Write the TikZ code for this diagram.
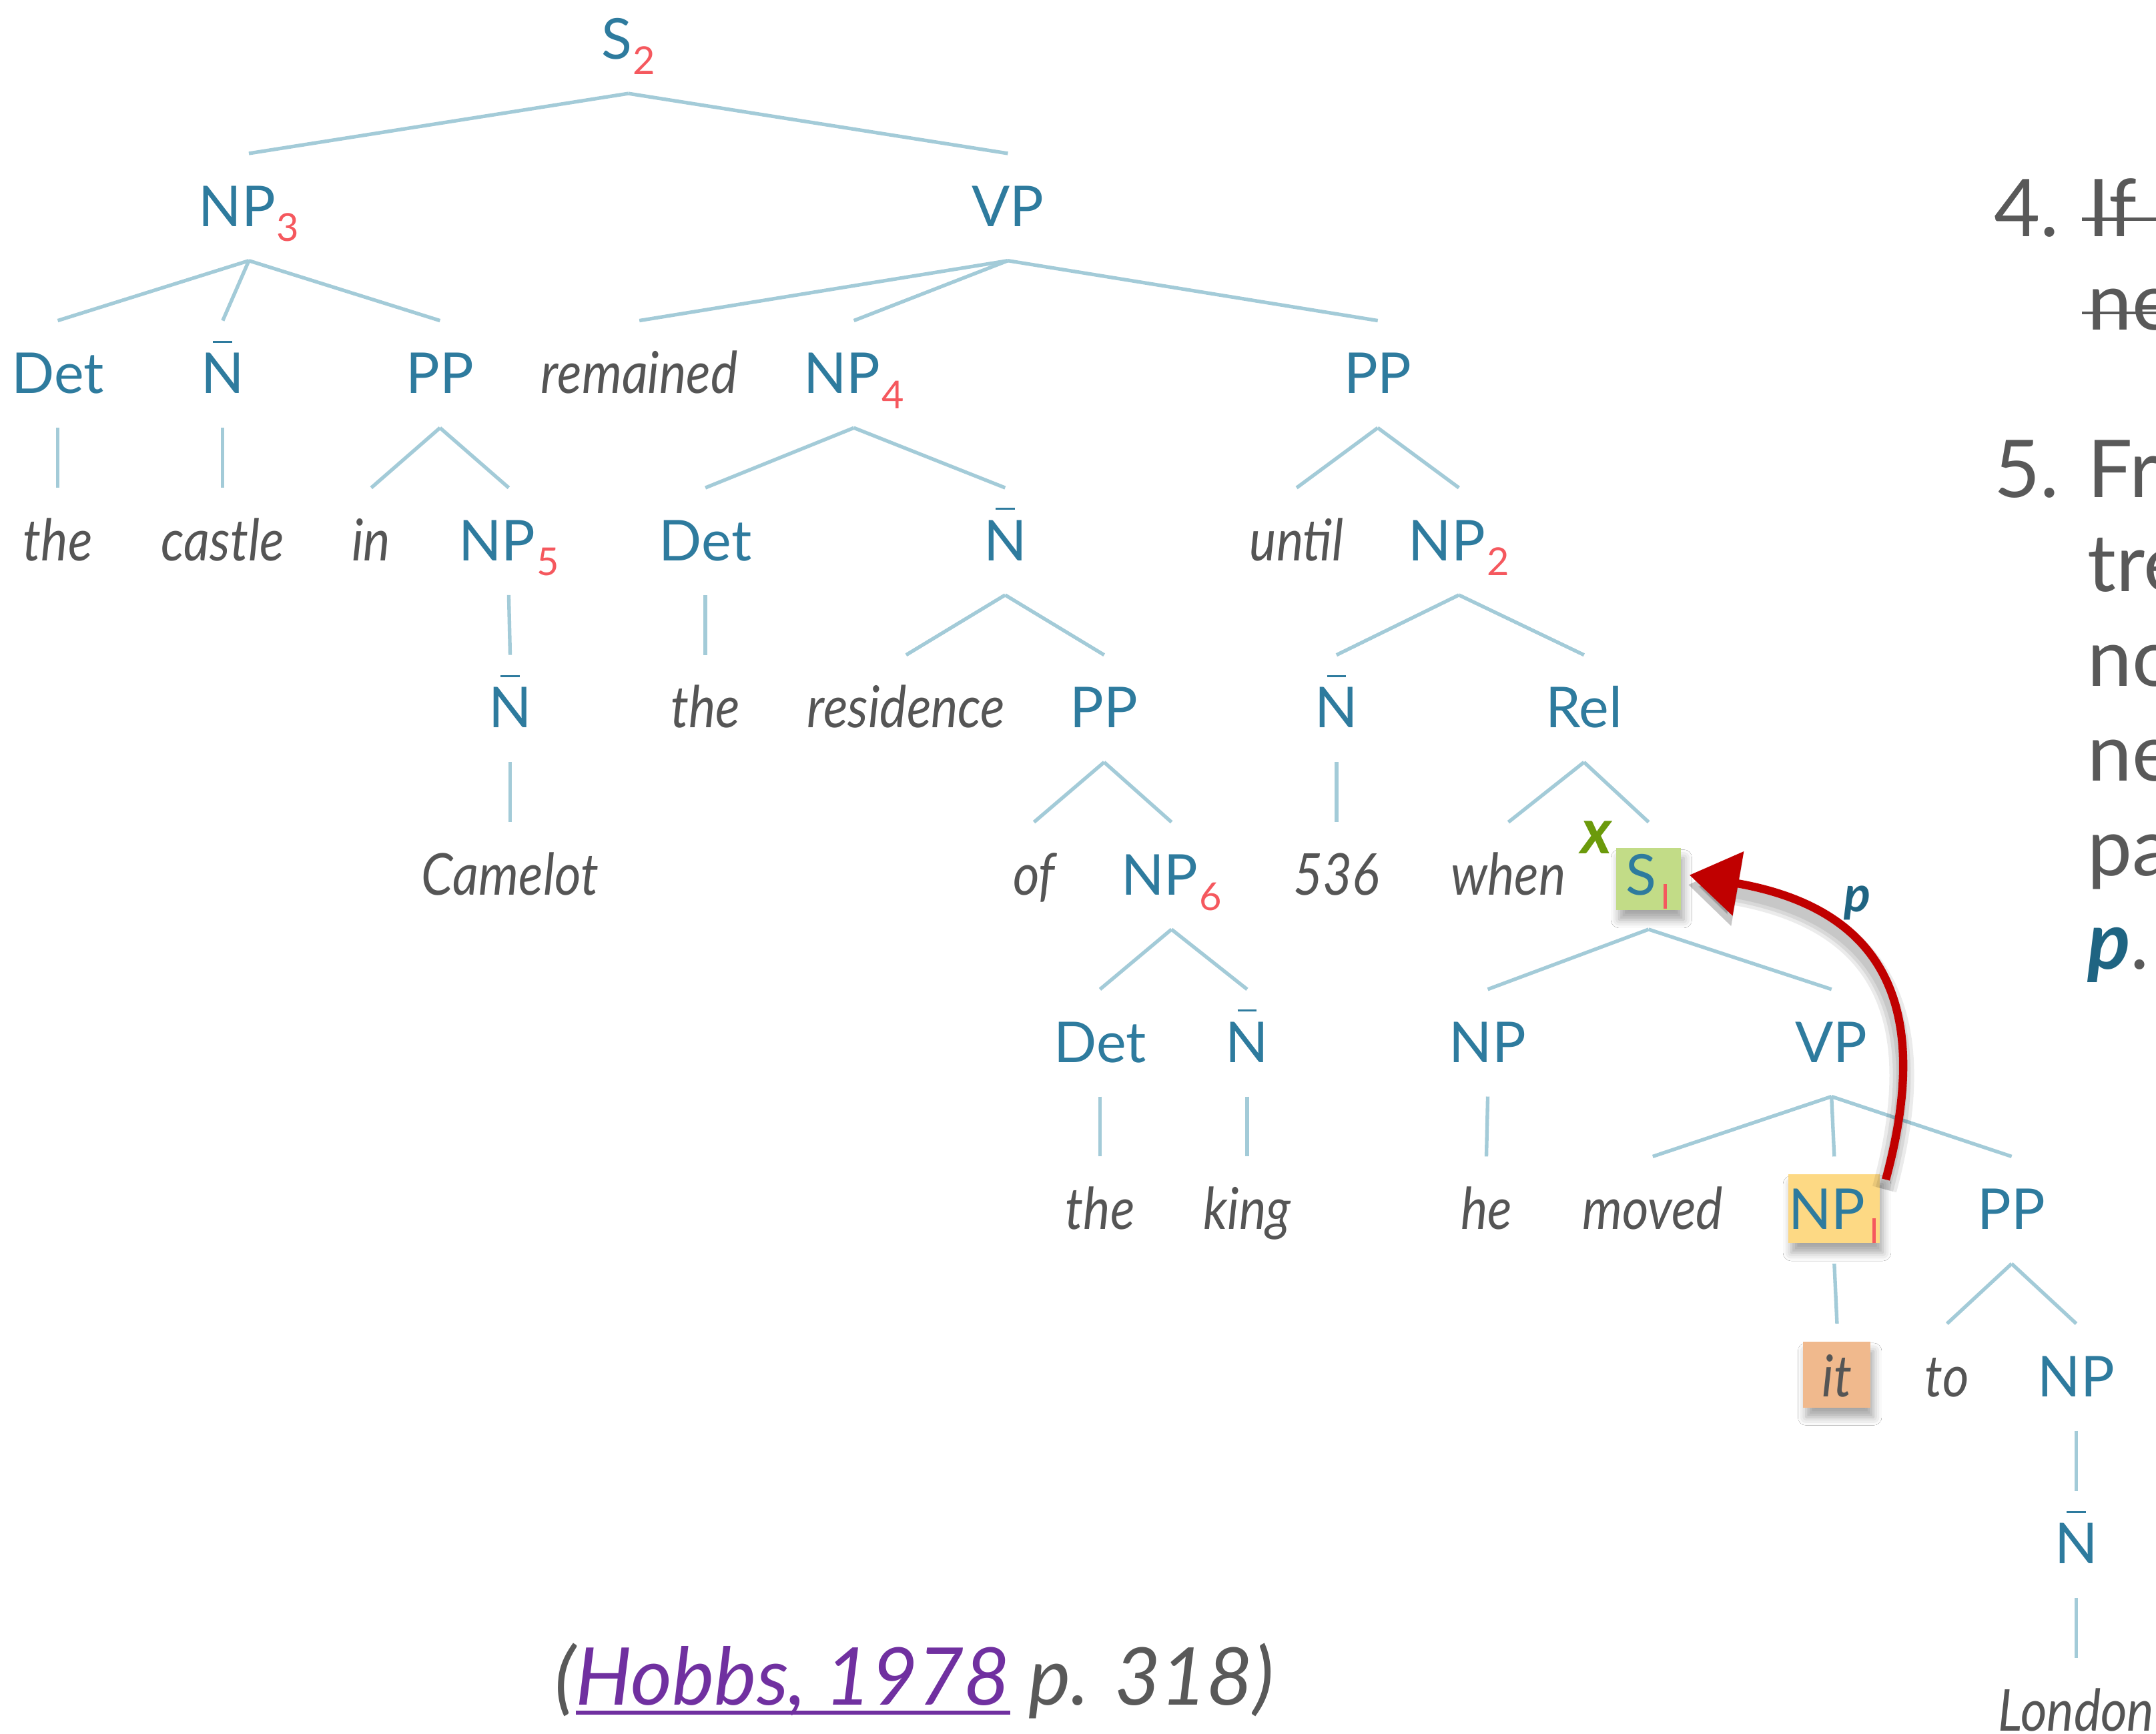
\documentclass[tikz,border=0pt]{standalone}
\usepackage{fontspec}
\setmainfont{Lato}
\newfontfamily\itf{Lato}[FakeStretch=0.88]
\usetikzlibrary{arrows.meta,shadows.blur}
\definecolor{labblue}{HTML}{2E7B9E}
\definecolor{lineblue}{HTML}{A3CBD8}
\definecolor{wgray}{HTML}{555555}
\definecolor{tgray}{HTML}{595959}
\definecolor{subred}{HTML}{F5585E}
\definecolor{boxgreen}{HTML}{C2DC87}
\definecolor{boxyellow}{HTML}{FDD984}
\definecolor{boxorange}{HTML}{F0B98D}
\definecolor{xgreen}{HTML}{6B9A0B}
\definecolor{pblue}{HTML}{1F6482}
\definecolor{arrred}{HTML}{C00000}
\definecolor{purp}{HTML}{7030A0}
\newcommand\subn[1]{{\kern1pt\color{subred}\fontsize{28}{28}\selectfont\raisebox{-11pt}{#1}}}
\newcommand\subone{{\kern5pt\color{subred}\raisebox{-10pt}{\rule{2.6pt}{18pt}}\kern3pt}}
\newcommand\NBar{{\setbox0\hbox{N}\rlap{\hbox to\wd0{\hss\rule[0.9em]{0.34em}{1.5pt}\hss}}N}}
\newcommand\treeedge[2]{\draw[br] ([yshift=-25pt]#1.base) -- ([yshift=53pt]#2.base);}
\tikzset{
  lab/.style={text=labblue, font=\fontsize{41}{41}\selectfont, inner sep=0pt, anchor=base},
  wrd/.style={text=wgray, font=\itf\itshape\fontsize{42}{42}\selectfont, inner sep=0pt, anchor=base},
  br/.style={draw=lineblue, line width=2.6pt},
  hbox/.style={inner xsep=0pt, inner ysep=3pt, blur shadow={shadow xshift=2pt, shadow yshift=-7pt, shadow blur radius=6pt, shadow opacity=35}},
  rt/.style={text=tgray, font=\fontsize{58}{58}\selectfont, inner sep=0pt, anchor=base west},
  strike/.style={draw=tgray, line width=2.2pt},
  arrowred/.style={draw=arrred, line width=6pt, -{Triangle[length=36pt,width=46pt]}},
  arrowshadow/.style={draw=black, opacity=0.08, line width=#1, -{Triangle[length=36pt,width=46pt]}, transform canvas={xshift=-1pt,yshift=-7pt}},
}
\begin{document}
\begin{tikzpicture}[x=1pt,y=-1pt]
\clip (0,0) rectangle (1568,1261);
\fill[white] (0,0) rectangle (1568,1261);
% row 0
\node[lab] (s2) at (457,43) {S\subn{2}};
% row 1
\node[lab] (np3) at (181,164.6) {NP\subn{3}};
\node[lab] (vp) at (733,164.6) {VP};
% row 2
\node[lab] (det1) at (42,286.2) {Det};
\node[lab] (nb1) at (162,286.2) {\NBar};
\node[lab] (pp1) at (320,286.2) {PP};
\node[wrd] (remained) at (465,286.2) {remained};
\node[lab] (np4) at (621,286.2) {NP\subn{4}};
\node[lab] (pp2) at (1002,286.2) {PP};
% row 3
\node[wrd] (the1) at (42,407.8) {the};
\node[wrd] (castle) at (162,407.8) {castle};
\node[wrd] (in) at (270,407.8) {in};
\node[lab] (np5) at (370,407.8) {NP\subn{5}};
\node[lab] (det2) at (513,407.8) {Det};
\node[lab] (nb2) at (731,407.8) {\NBar};
\node[wrd] (until) at (943,407.8) {until};
\node[lab] (np2) at (1061,407.8) {NP\subn{2}};
% row 4
\node[lab] (nb3) at (371,529.4) {\NBar};
\node[wrd] (the2) at (513,529.4) {the};
\node[wrd] (residence) at (659,529.4) {residence};
\node[lab] (pp3) at (803,529.4) {PP};
\node[lab] (nb4) at (972,529.4) {\NBar};
\node[lab] (rel) at (1152,529.4) {Rel};
% row 5
\node[wrd] (camelot) at (371,651) {Camelot};
\node[wrd] (of) at (752,651) {of};
\node[lab] (np6) at (852,651) {NP\subn{6}};
\node[wrd] (n536) at (972,651) {536};
\node[wrd] (when) at (1097,651) {when};
\node[lab, hbox, fill=boxgreen, minimum width=47pt, text height=31pt, text depth=8pt] (s1) at (1199,651) {S\subone};
% row 6
\node[lab] (det3) at (800,772.6) {Det};
\node[lab] (nb5) at (907,772.6) {\NBar};
\node[lab] (np7) at (1082,772.6) {NP};
\node[lab] (vp2) at (1332,772.6) {VP};
% row 7
\node[wrd] (the3) at (800,894.2) {the};
\node[wrd] (king) at (907,894.2) {king};
\node[wrd] (he) at (1081,894.2) {he};
\node[wrd] (moved) at (1202,894.2) {moved};
\node[lab, hbox, fill=boxyellow, minimum width=63pt, text height=37pt, text depth=7pt] (np1) at (1334,894.2) {NP\subone};
\node[lab] (pp4) at (1463,894.2) {PP};
% row 8
\node[wrd, hbox, fill=boxorange, minimum width=49pt, text height=37pt, text depth=5pt] (it) at (1336,1015.8) {it};
\node[wrd] (to) at (1416,1015.8) {to};
\node[lab] (np8) at (1510,1015.8) {NP};
% row 9
\node[lab] (nb6) at (1510,1137.4) {\NBar};
% row 10
\node[wrd] (london) at (1510,1259) {London};

% edges
\treeedge{s2}{np3}\treeedge{s2}{vp}
\treeedge{np3}{det1}\treeedge{np3}{nb1}\treeedge{np3}{pp1}
\treeedge{vp}{remained}\treeedge{vp}{np4}\treeedge{vp}{pp2}
\treeedge{det1}{the1}\treeedge{nb1}{castle}\treeedge{pp1}{in}\treeedge{pp1}{np5}
\treeedge{np4}{det2}\treeedge{np4}{nb2}
\treeedge{pp2}{until}\treeedge{pp2}{np2}
\treeedge{np5}{nb3}\treeedge{det2}{the2}\treeedge{nb2}{residence}\treeedge{nb2}{pp3}
\treeedge{np2}{nb4}\treeedge{np2}{rel}
\treeedge{nb3}{camelot}\treeedge{pp3}{of}\treeedge{pp3}{np6}\treeedge{nb4}{n536}
\treeedge{rel}{when}\treeedge{rel}{s1}
\treeedge{np6}{det3}\treeedge{np6}{nb5}\treeedge{s1}{np7}\treeedge{s1}{vp2}
\treeedge{det3}{the3}\treeedge{nb5}{king}\treeedge{np7}{he}
\treeedge{vp2}{moved}\treeedge{vp2}{np1}\treeedge{vp2}{pp4}
\treeedge{np1}{it}\treeedge{pp4}{to}\treeedge{pp4}{np8}
\treeedge{np8}{nb6}\treeedge{nb6}{london}

% labels x and p
\node[text=xgreen, font=\bfseries\itshape\fontsize{46}{46}\selectfont, inner sep=0pt] (xlab) at (1161,609) {x};
\node[text=pblue, font=\bfseries\itshape\fontsize{36}{36}\selectfont, inner sep=0pt] (plab) at (1351,657) {p};

% arrow p
\coordinate (a0) at ([xshift=4pt,yshift=-4pt]np1.north east);
\coordinate (a1) at ([xshift=6pt,yshift=3pt]s1.east);
\draw[arrowshadow=18pt] (a0) .. controls (1398,760) and (1392,665) .. (a1);
\draw[arrowshadow=13pt] (a0) .. controls (1398,760) and (1392,665) .. (a1);
\draw[arrowshadow=8pt] (a0) .. controls (1398,760) and (1392,665) .. (a1);
\draw[arrowred] (a0) .. controls (1398,760) and (1392,665) .. (a1);

% right-hand text
\node[rt] (n4) at (1450,172) {4.};
\node[rt] (t4a) at (1518,172) {If node X is the highest S};
\node[rt] (t4b) at (1518,240) {next sentence};
\draw[strike] ([xshift=-4pt,yshift=12.5pt]t4a.base west) -- ([yshift=12.5pt]t4a.base east);
\draw[strike] ([xshift=-4pt,yshift=12.5pt]t4b.base west) -- ([yshift=12.5pt]t4b.base east);
\node[rt] (n5) at (1450,362) {5.};
\node[rt] (t5a) at (1518,362) {From node X, go up the};
\node[rt] (t5b) at (1518,430) {tree to the first NP or S};
\node[rt] (t5c) at (1518,499) {node encountered. Call this};
\node[rt] (t5d) at (1518,568) {new node X, and call the};
\node[rt] (t5e) at (1518,637) {path traversed to reach it};
\node[rt] (t5f) at (1518,705) {{\color{pblue}\bfseries\itshape p}.};

% citation
\node[text=tgray, font=\itshape\fontsize{58}{58}\selectfont, inner sep=0pt, anchor=base] (cite) at (665,1240)
  {(\setbox1\hbox{{\color{purp}Hobbs, 1978}}{\color{purp}\rlap{\rule[-7pt]{\wd1}{2.6pt}}}\box1\ p. 318)};
\end{tikzpicture}
\end{document}
